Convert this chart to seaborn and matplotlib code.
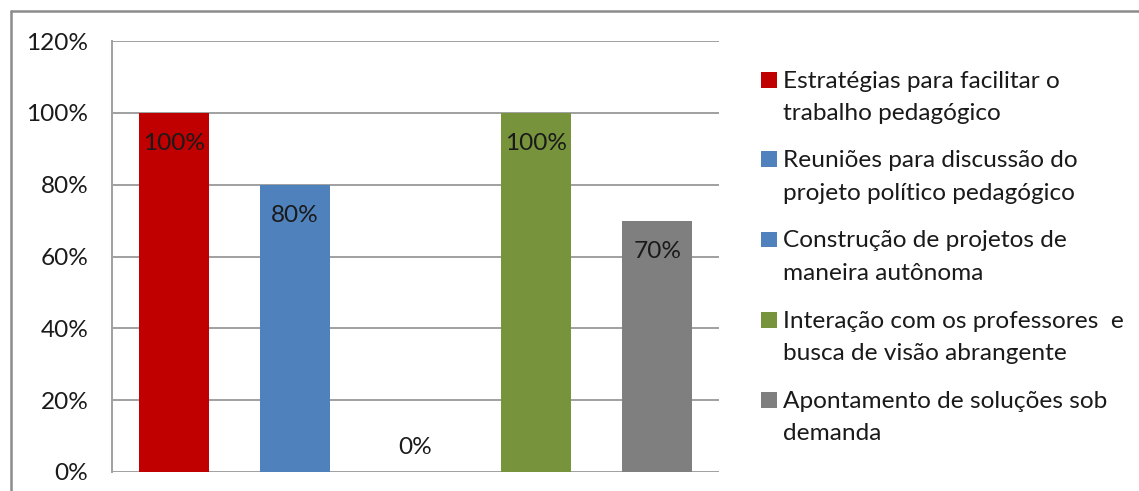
import matplotlib
matplotlib.use("Agg")
import matplotlib.pyplot as plt
import matplotlib.patches as mpatches
import seaborn as sns
import pandas as pd

categorias = [
    "Estratégias para facilitar o\ntrabalho pedagógico",
    "Reuniões para discussão do\nprojeto político pedagógico",
    "Construção de projetos de\nmaneira autônoma",
    "Interação com os professores  e\nbusca de visão abrangente",
    "Apontamento de soluções sob\ndemanda",
]
valores = [100, 80, 0, 100, 70]
cores = ["#C00000", "#4F81BD", "#4F81BD", "#77933C", "#7F7F7F"]
yticks = [0, 20, 40, 60, 80, 100, 120]

sns.set_theme(style="white")
plt.rcParams["font.family"] = ["Lato", "DejaVu Sans"]

W, H = 1139, 491
FS = 17.6
fig = plt.figure(figsize=(W / 100, H / 100), dpi=100)
ax = fig.add_axes([112 / W, 1 - 472 / H, (719 - 112) / W, (472 - 41) / H])

df = pd.DataFrame({"cat": categorias, "val": valores})
sns.barplot(data=df, x="cat", y="val", hue="cat", palette=cores,
            width=0.58, dodge=False, legend=False, ax=ax, saturation=1,
            linewidth=0, zorder=3)

ax.set_xlim(-0.51, 4.51)
ax.set_ylim(0, 120)
ax.set_yticks(yticks)
ax.set_yticklabels([f"{v}%" for v in yticks], fontsize=FS, color="#1a1a1a")
ax.set_xticks([])
ax.set_xlabel("")
ax.set_ylabel("")
ax.tick_params(axis="y", length=0, pad=17)
ax.yaxis.grid(True, color="#A0A0A0", linewidth=1.4, zorder=0)
ax.set_axisbelow(True)
for side in ["top", "right", "bottom"]:
    ax.spines[side].set_visible(False)
ax.spines["left"].set_color("#A0A0A0")
ax.spines["left"].set_linewidth(1.4)

# value labels inside the top of each bar
for i, v in enumerate(valores):
    off = -22 if v > 0 else 18
    ax.annotate(f"{v}%", xy=(i, v), xytext=(0, off), textcoords="offset points",
                ha="center", va="center", fontsize=FS, color="#1a1a1a",
                zorder=5)

# legend on the right: square aligned with the first line of each entry
for k, (lab, c) in enumerate(zip(categorias, cores)):
    base = 87.5 + 80 * k
    fig.patches.append(mpatches.Rectangle((761 / W, 1 - base / H), 16 / W, 16 / H,
                                          transform=fig.transFigure,
                                          facecolor=c, edgecolor="none"))
    for j, line in enumerate(lab.split("\n")):
        fig.text(783 / W, 1 - (base + 32 * j) / H, line, ha="left",
                 va="baseline", fontsize=FS, color="#1a1a1a")

# chart frame
fig.add_artist(plt.Line2D([10.5 / W, 10.5 / W], [1 - 10.5 / H, 0],
                          transform=fig.transFigure, color="#8C8C8C", lw=1.8))
fig.add_artist(plt.Line2D([10.5 / W, 1], [1 - 10.5 / H, 1 - 10.5 / H],
                          transform=fig.transFigure, color="#8C8C8C", lw=1.8))

fig.savefig("out.png", dpi=100, facecolor="white")
